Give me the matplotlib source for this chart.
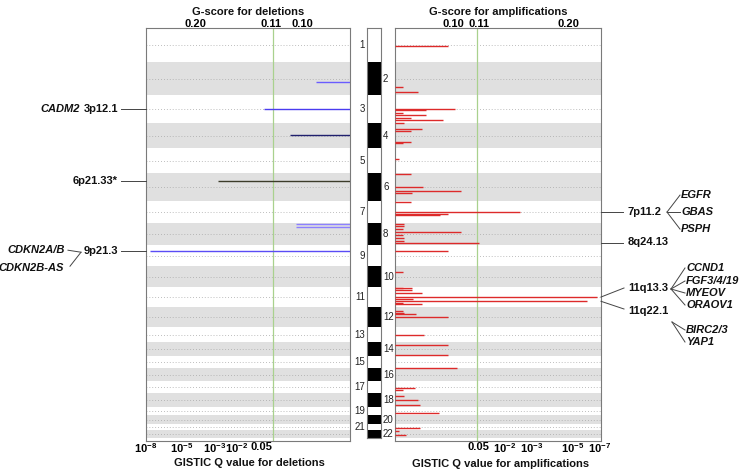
import numpy as np
import matplotlib
matplotlib.use("Agg")
import matplotlib.pyplot as plt

plt.rcParams["font.family"] = ["Liberation Sans", "DejaVu Sans"]
plt.rcParams["mathtext.fontset"] = "custom"
plt.rcParams["mathtext.rm"] = "Liberation Sans"
plt.rcParams["mathtext.bf"] = "Liberation Sans:bold"

# chromosome sizes (Mb, as drawn)
chrom_size = [239, 232, 197, 176, 176, 197, 155, 155, 148, 148, 141,
              141, 105, 98, 84, 91, 84, 98, 56, 63, 42, 56]

# deletions: chromosome, position within chromosome (Mb), score (fraction of axis)
del_chrom = [2, 3, 4, 6, 8, 8, 9]
del_pos = [141, 95, 84, 56, 7, 28, 42]
del_score = [0.167, 0.42, 0.294, 0.647, 0.265, 0.265, 0.98]
del_shade = ["#6a5cff", "#4a3cf0", "#20206e", "#3c3c2a", "#8c80ff", "#8c80ff", "#5a4cf5"]

# amplifications
amp_chrom = [1, 2, 2, 3, 3, 3, 3, 3, 3, 4, 4, 4, 4, 4, 5, 6, 6, 6, 6,
             7, 7, 7, 7, 8, 8, 8, 8, 8, 8, 8, 8, 9, 10,
             11, 11, 11, 11, 11, 11, 11, 11, 11, 12, 12, 12, 12,
             13, 14, 14, 15, 17, 17, 18, 18, 18, 19, 21, 22, 22]
amp_pos = [127, 174, 209, 98, 105, 124, 141, 160, 176, 2, 44, 53, 131, 138, 77, 7, 96, 127, 141,
           7, 77, 91, 98, 7, 21, 42, 63, 84, 105, 127, 141, 42, 42,
           2, 7, 21, 42, 68, 84, 98, 112, 119, 28, 40, 49, 70,
           56, 21, 91, 82, 49, 63, 21, 49, 84, 42, 30, 7, 35]
amp_score = [0.257, 0.039, 0.112, 0.291, 0.150, 0.039, 0.150, 0.078, 0.233,
             0.044, 0.131, 0.078, 0.078, 0.039, 0.019, 0.078, 0.136, 0.320, 0.083,
             0.078, 0.607, 0.257, 0.218, 0.044, 0.044, 0.039, 0.320, 0.039, 0.044, 0.044, 0.408,
             0.257, 0.039,
             0.083, 0.039, 0.083, 0.131, 0.98, 0.087, 0.932, 0.039, 0.131,
             0.039, 0.044, 0.102, 0.257,
             0.141, 0.257, 0.257, 0.301, 0.097, 0.039, 0.044, 0.112, 0.121, 0.214,
             0.121, 0.019, 0.053]

# axis ticks (fraction of axis from baseline)
del_q_pos = [1.0, 0.824, 0.662, 0.554, 0.436]
del_q_lab = [r"$\mathbf{10^{-8}}$", r"$\mathbf{10^{-5}}$", r"$\mathbf{10^{-3}}$",
             r"$\mathbf{10^{-2}}$", "0.05"]
del_g_pos = [0.76, 0.387, 0.235]
del_g_lab = ["0.20", "0.11", "0.10"]
del_thr = 0.377
amp_q_pos = [0.403, 0.534, 0.665, 0.864, 0.995]
amp_q_lab = ["0.05", r"$\mathbf{10^{-2}}$", r"$\mathbf{10^{-3}}$",
             r"$\mathbf{10^{-5}}$", r"$\mathbf{10^{-7}}$"]
amp_g_pos = [0.282, 0.408, 0.84]
amp_g_lab = ["0.10", "0.11", "0.20"]
amp_thr = 0.398

# peaks
del_peaks = ["3p12.1", "6p21.33*", "9p21.3"]
del_peak_chrom = [3, 6, 9]
del_peak_pos = [95, 56, 42]

starts = np.concatenate([[0], np.cumsum(chrom_size)[:-1]])
total = sum(chrom_size)
centers = starts + np.array(chrom_size) / 2
pad = 21

W, H = 739, 472
FS = 8
fig = plt.figure(figsize=(W / 100, H / 100), dpi=100)


def panel(rect, chroms, pos, score, colors, reverse, thr, qpos, qlab, gpos, glab):
    ax = fig.add_axes(rect)
    for i in range(1, len(chrom_size), 2):
        ax.axhspan(starts[i], starts[i] + chrom_size[i], color="#e0e0e0", lw=0, zorder=0)
    for c in centers:
        ax.axhline(c, color="#a8a8a8", ls=(0, (1, 2.5)), lw=0.6, zorder=1)
    ax.axvline(thr, color="#a9d18e", lw=0.9, zorder=2)
    ys = [starts[c - 1] + p for c, p in zip(chroms, pos)]
    ax.hlines(ys, 0, score, colors=colors, lw=1.0, zorder=3)
    ax.set_ylim(total + pad, 0)
    ax.set_xlim((1, 0) if reverse else (0, 1))
    ax.set_yticks([])
    ax.set_xticks(qpos)
    ax.set_xticklabels(qlab, fontsize=FS, fontweight="bold")
    ax.tick_params(axis="x", length=0, pad=0.5)
    top = ax.secondary_xaxis("top")
    top.set_xticks(gpos)
    top.set_xticklabels(glab, fontsize=FS, fontweight="bold")
    top.tick_params(length=0, pad=-1)
    top.spines["top"].set_visible(False)
    for s in ax.spines.values():
        s.set_color("#7a7a7a")
        s.set_linewidth(0.8)
    return ax


ax_del = panel([146 / W, 31 / H, 204 / W, 413 / H], del_chrom, del_pos, del_score,
               del_shade, True, del_thr, del_q_pos, del_q_lab, del_g_pos, del_g_lab)
ax_amp = panel([395 / W, 31 / H, 206 / W, 413 / H], amp_chrom, amp_pos, amp_score,
               "#dd2a2a", False, amp_thr, amp_q_pos, amp_q_lab, amp_g_pos, amp_g_lab)

# ideogram
ax_c = fig.add_axes([367 / W, 34 / H, 14 / W, 410 / H])
ax_c.bar(0, chrom_size, bottom=starts, width=1,
         color=["white" if i % 2 == 0 else "black" for i in range(len(chrom_size))], lw=0)
ax_c.set_xlim(-0.5, 0.5)
ax_c.set_ylim(total, 0)
ax_c.set_xticks([])
ax_c.set_yticks([])
for s in ax_c.spines.values():
    s.set_color("#7a7a7a")
    s.set_linewidth(0.8)

# overlay in pixel coordinates for labels
ov = fig.add_axes([0, 0, 1, 1])
ov.set_xlim(0, W)
ov.set_ylim(H, 0)
ov.axis("off")
ov.patch.set_alpha(0)


def ypix(ax, y):
    return H - ax.transData.transform((0, y))[1]


for i, c in enumerate(centers):
    yy = ypix(ax_c, c)
    if i % 2 == 0:
        ov.text(365, yy, str(i + 1), ha="right", va="center", fontsize=7, color="#222222")
    else:
        ov.text(383, yy, str(i + 1), ha="left", va="center", fontsize=7, color="#222222")

tkw = dict(fontsize=FS, fontweight="bold", color="#111111")
ov.text(248, 12, "G-score for deletions", ha="center", va="center", **tkw)
ov.text(498, 12, "G-score for amplifications", ha="center", va="center", **tkw)
ov.text(249, 463, "GISTIC Q value for deletions", ha="center", va="center", **tkw)
ov.text(501, 464, "GISTIC Q value for amplifications", ha="center", va="center", **tkw)

lk = dict(color="#444444", lw=0.7)
gk = dict(fontsize=FS, fontweight="bold", fontstyle="italic", color="#111111", va="center")
pk = dict(fontsize=FS, fontweight="bold", color="#111111", va="center")

# deletion peaks
for name, c, p in zip(del_peaks, del_peak_chrom, del_peak_pos):
    yy = ypix(ax_del, starts[c - 1] + p)
    ov.plot([121, 146], [yy, yy], **lk)
    ov.text(118, yy, name, ha="right", **pk)
ov.text(80, ypix(ax_del, starts[2] + 95), "CADM2", ha="right", **gk)
y9 = ypix(ax_del, starts[8] + 42)
ov.text(65, y9 - 1, "CDKN2A/B", ha="right", **gk)
ov.text(64, y9 + 17, "CDKN2B-AS", ha="right", **gk)
ov.plot([68, 81], [y9 - 1, y9 + 1], **lk)
ov.plot([70, 81], [y9 + 15, y9 + 1], **lk)

# amplification peaks
y7 = ypix(ax_amp, starts[6] + 77)
ov.plot([601, 623], [y7, y7], **lk)
ov.text(628, y7, "7p11.2", ha="left", **pk)
for g, gy in zip(["EGFR", "GBAS", "PSPH"], [-17, 0, 17]):
    ov.plot([667, 680], [y7, y7 + gy], **lk)
    ov.text(681, y7 + gy, g, ha="left", **gk)

y8 = ypix(ax_amp, starts[7] + 141)
ov.plot([601, 623], [y8, y8], **lk)
ov.text(628, y8 - 1, "8q24.13", ha="left", **pk)

y11a = ypix(ax_amp, starts[10] + 68)
ov.plot([601, 624], [y11a, 288], **lk)
ov.text(628, 288, "11q13.3", ha="left", **pk)
for g, gy in zip(["CCND1", "FGF3/4/19", "MYEOV", "ORAOV1"], [268, 281, 293, 305]):
    ov.plot([671, 685], [289, gy], **lk)
    ov.text(686, gy, g, ha="left", **gk)

y11b = ypix(ax_amp, starts[10] + 98)
ov.plot([601, 624], [y11b, 309], **lk)
ov.text(628, 311, "11q22.1", ha="left", **pk)
for g, gy in zip(["BIRC2/3", "YAP1"], [330, 342]):
    ov.plot([672, 685], [322, gy], **lk)
    ov.text(686, gy, g, ha="left", **gk)

fig.savefig("out.png", dpi=100)
